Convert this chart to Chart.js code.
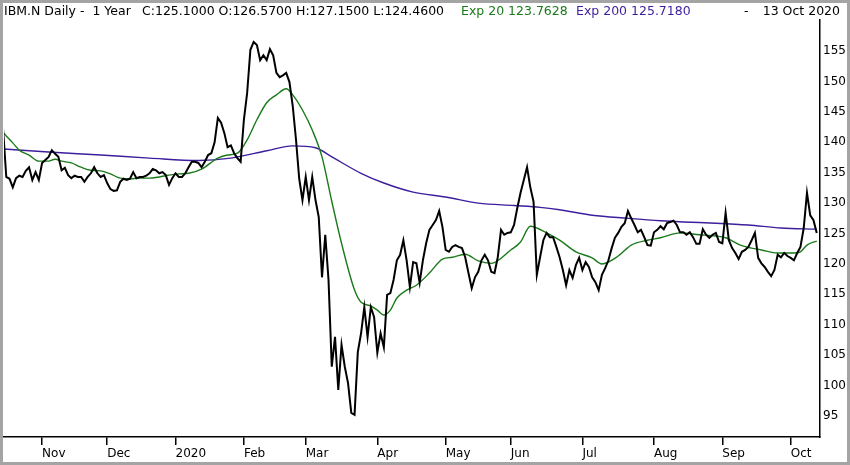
<!DOCTYPE html>
<html>
<head>
<meta charset="utf-8">
<script src="https://cdn.jsdelivr.net/npm/chart.js@4.4.0/dist/chart.umd.min.js"></script>
<style>
  html, body { margin: 0; padding: 0; background: #fff; }
  #wrap { width: 850px; height: 465px; position: relative; }
</style>
</head>
<body>
<div id="wrap"><canvas id="chart"></canvas></div>
<script>
/* --- data (x = trading day since 14 Oct 2019) --- */
const firstDay = 2;
const close = [
  142.3, 134.3, 134.0, 132.6, 134.1, 134.5, 134.3, 135.3, 135.9, 133.8,
  135.1, 133.8, 136.6, 137.1, 137.6, 138.7, 138.1, 137.6, 135.4, 135.8,
  134.6, 134.1, 134.5, 134.3, 134.3, 133.5, 134.3, 134.9, 135.9, 134.9,
  134.3, 134.6, 133.3, 132.3, 132.0, 132.1, 133.5, 134.0, 133.8, 134.0,
  135.1, 134.1, 134.3, 134.3, 134.5, 134.9, 135.6, 135.4, 134.9, 135.1,
  134.6, 133.0, 134.1, 134.9, 134.3, 134.3, 134.9, 135.9, 136.8, 136.8,
  136.6, 135.9, 136.8, 137.9, 138.2, 140.0, 144.0, 143.2, 141.5, 139.2,
  139.5, 138.2, 137.4, 136.8, 143.7, 148.1, 155.2, 156.5, 156.0, 153.5,
  154.3, 153.5, 155.3, 154.3, 151.4, 150.7, 151.0, 151.4, 149.9, 146.0,
  140.5, 134.0, 130.5, 134.3, 130.5, 134.3, 130.5, 127.7, 117.8, 124.8,
  117.4, 103.1, 108.0, 99.3, 106.7, 103.1, 100.4, 95.5, 95.2, 105.5,
  108.6, 112.9, 108.0, 112.9, 111.3, 105.4, 108.6, 106.3, 114.9, 115.2,
  117.4, 120.6, 121.5, 123.9, 120.6, 116.2, 120.3, 120.1, 116.9, 120.6,
  123.4, 125.6, 126.4, 127.2, 128.7, 126.1, 122.3, 122.0, 122.8, 123.1,
  122.8, 122.6, 121.1, 118.5, 116.0, 117.8, 118.7, 120.6, 121.5, 120.6,
  118.7, 118.5, 121.1, 125.6, 124.8, 125.1, 125.2, 126.4, 129.2, 131.7,
  133.8, 135.9, 132.6, 130.2, 118.2, 121.1, 123.9, 125.1, 124.4, 124.4,
  122.8, 121.1, 119.0, 116.5, 119.0, 117.7, 119.8, 121.0, 119.0, 120.3,
  119.5, 117.8, 117.0, 115.7, 118.2, 119.3, 120.6, 122.6, 124.3, 125.1,
  126.1, 126.7, 128.7, 127.5, 126.4, 125.2, 125.6, 124.4, 123.1, 123.0,
  125.2, 125.6, 126.2, 125.7, 126.7, 126.9, 127.1, 126.4, 125.2, 125.2,
  124.8, 125.2, 124.4, 123.3, 123.3, 125.7, 124.8, 124.3, 124.8, 125.1,
  123.6, 123.4, 128.4, 123.9, 122.6, 121.8, 120.8, 122.0, 122.3, 122.8,
  123.9, 125.1, 121.0, 120.1, 119.5, 118.7, 118.0, 119.0, 121.5, 121.1,
  121.8, 121.3, 121.0, 120.6, 121.8, 122.8, 125.9, 131.7, 128.0, 127.2,
  125.1
];

const ema20Day = [2, 5, 7, 10, 13, 16, 18, 20, 23, 26, 29, 32, 35, 38, 41, 44, 47, 50, 53, 56, 59, 63,
  68, 71, 74, 77, 80, 83, 86, 89, 91, 94, 97, 100, 103, 106, 110, 112, 115, 117, 119, 121, 123, 126,
  129, 133, 137, 140, 144, 148, 152, 158, 161, 164, 169, 173, 178, 183, 186, 191, 195, 200, 204, 210,
  216, 221, 224, 229, 235, 240, 245, 247, 249, 252];
const ema20 = [141.6, 139.9, 138.7, 137.9, 136.9, 136.9, 137.2, 136.9, 136.6, 135.9, 135.4, 135.3, 134.8,
  134.1, 134.0, 134.1, 134.1, 134.3, 134.6, 134.8, 134.9, 135.6, 137.4, 137.9, 138.2, 140.4, 143.7,
  146.5, 147.8, 148.8, 147.8, 145.3, 142.0, 137.6, 130.3, 123.4, 115.7, 113.7, 113.1, 112.4, 111.6,
  112.4, 114.4, 115.7, 116.5, 118.5, 120.8, 121.1, 121.6, 120.5, 120.1, 122.3, 123.6, 126.2, 125.1,
  123.9, 122.0, 121.0, 120.0, 121.3, 123.1, 123.9, 124.3, 125.1, 124.8, 124.6, 124.3, 123.0, 122.3,
  121.8, 121.8, 122.0, 123.1, 123.76];

const ema200Day = [2, 16, 32, 47, 62, 72, 83, 91, 98, 103, 112, 119, 128, 138, 148, 159, 167, 173, 183,
  194, 204, 211, 221, 231, 241, 252];
const ema200 = [138.9, 138.4, 137.9, 137.4, 137.0, 137.4, 138.6, 139.4, 139.1, 137.6, 134.9, 133.3,
  131.8, 131.0, 130.0, 129.6, 129.3, 128.9, 128.0, 127.5, 127.1, 126.9, 126.7, 126.4, 125.9, 125.72];

const monthDay = [14, 34, 55, 76, 95, 117, 138, 158, 180, 202, 223, 244];
const monthLabel = ['Nov', 'Dec', '2020', 'Feb', 'Mar', 'Apr', 'May', 'Jun', 'Jul', 'Aug', 'Sep', 'Oct'];
const priceTicks = [95, 100, 105, 110, 115, 120, 125, 130, 135, 140, 145, 150, 155];

const titleText = 'IBM.N Daily -  1 Year';
const quoteText = 'C:125.1000 O:126.5700 H:127.1500 L:124.4600';
const ema20Text = 'Exp 20 123.7628';
const ema200Text = 'Exp 200 125.7180';
const dateText = '13 Oct 2020';

const GREEN = '#1a7a1a';
const PURPLE = '#3d1e9c';
const FONT = '"DejaVu Sans", sans-serif';

const toPoints = (days, vals) => vals.map((v, i) => ({ x: days[i], y: v }));

// header line and window frame
const headerPlugin = {
  id: 'header',
  afterDraw(chart) {
    const ctx = chart.ctx;
    ctx.save();
    ctx.font = '12.5px ' + FONT;
    ctx.textBaseline = 'middle';
    ctx.textAlign = 'left';
    ctx.fillStyle = '#000';
    ctx.fillText(titleText, 4, 12, 132);
    ctx.fillText(quoteText, 142, 12, 309);
    ctx.fillStyle = GREEN;
    ctx.fillText(ema20Text, 461, 12, 110);
    ctx.fillStyle = PURPLE;
    ctx.fillText(ema200Text, 576, 12, 117);
    ctx.fillStyle = '#000';
    ctx.fillText('-', 744, 12);
    ctx.textAlign = 'right';
    ctx.fillText(dateText, 840, 12);

    ctx.strokeStyle = '#a4a4a4';
    ctx.lineWidth = 3;
    ctx.strokeRect(1.5, 1.5, chart.width - 3, chart.height - 3);
    ctx.restore();
  }
};

function initChart() {
  const ctx = document.getElementById('chart').getContext('2d');
  new Chart(ctx, {
    type: 'line',
    data: {
      datasets: [
        {
          label: 'Close',
          data: close.map((v, i) => ({ x: firstDay + i, y: v })),
          borderColor: '#000', borderWidth: 2, pointRadius: 0, tension: 0
        },
        {
          label: 'Exp 20',
          data: toPoints(ema20Day, ema20),
          borderColor: GREEN, borderWidth: 1.4, pointRadius: 0, cubicInterpolationMode: 'monotone'
        },
        {
          label: 'Exp 200',
          data: toPoints(ema200Day, ema200),
          borderColor: PURPLE, borderWidth: 1.4, pointRadius: 0, cubicInterpolationMode: 'monotone'
        }
      ]
    },
    options: {
      responsive: true,
      maintainAspectRatio: false,
      animation: false,
      layout: { padding: { left: 4, top: 20, right: 0, bottom: 0 } },
      plugins: { legend: { display: false }, tooltip: { enabled: false } },
      scales: {
        x: {
          type: 'linear', min: 2.3, max: 253,
          afterBuildTicks: s => { s.ticks = monthDay.map(v => ({ value: v })); },
          afterFit: s => { s.height = 28; },
          ticks: {
            autoSkip: false, maxRotation: 0, align: 'start', padding: 2,
            color: '#000', font: { family: FONT, size: 12 },
            callback: (v, i) => monthLabel[i]
          },
          grid: { drawOnChartArea: false, drawTicks: true, tickLength: 8, color: '#000', lineWidth: 1.5 },
          border: { color: '#000', width: 1.5 }
        },
        y: {
          type: 'linear', position: 'right', min: 91.55, max: 160.1,
          afterBuildTicks: s => { s.ticks = priceTicks.map(v => ({ value: v })); },
          afterFit: s => { s.width = 30; },
          ticks: { padding: 3, color: '#000', font: { family: FONT, size: 12 } },
          grid: { display: false, drawTicks: false },
          border: { color: '#000', width: 1.5 }
        }
      }
    },
    plugins: [headerPlugin]
  });
}

window.onload = () => { initChart(); };
</script>
</body>
</html>
